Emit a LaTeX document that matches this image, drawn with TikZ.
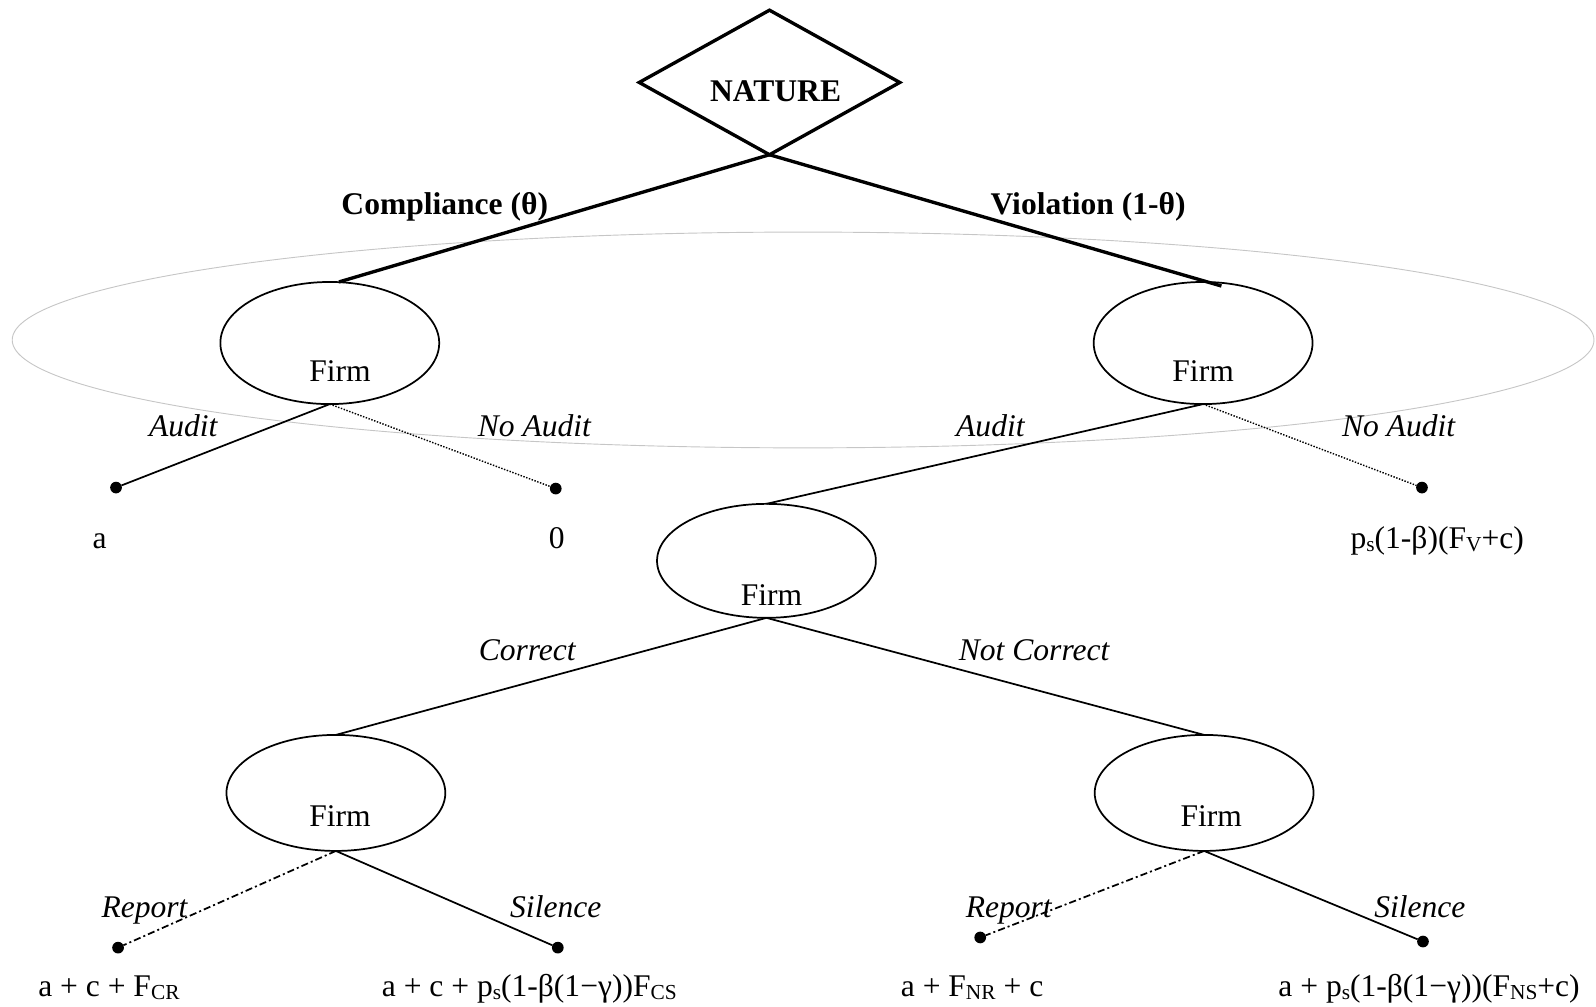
\documentclass[tikz,border=0pt]{standalone}
\usepackage{fontspec}
\setmainfont{Liberation Serif}
\usetikzlibrary{shapes.geometric,calc}
\newcommand\sbs[1]{\raisebox{-0.1em}{\fontsize{21}{21}\selectfont #1}}
\begin{document}
\begin{tikzpicture}[x=1pt,y=-1pt,
 every node/.style={font=\fontsize{31}{36}\selectfont, inner sep=0pt, outer sep=0pt},
 txt/.style={anchor=base},
 lbl/.style={anchor=base, font=\fontsize{31}{36}\selectfont\itshape},
 btxt/.style={anchor=base, font=\fontsize{31}{36}\selectfont\bfseries},
 firm/.style={ellipse, draw, line width=1.7pt, minimum width=215pt, minimum height=118pt},
 leaf/.style={circle, fill, minimum size=11.5pt},
 conn/.style={line width=1.7pt},
 nconn/.style={line width=3.3pt},
 dotconn/.style={line width=1.4pt, dash pattern=on 1.4pt off 1.5pt},
 dashdot/.style={line width=1.7pt, dash pattern=on 7pt off 3pt on 2pt off 3pt},
]
\useasboundingbox (0,0) rectangle (1568,989);

% information set
\draw[gray!45, line width=0.9pt] (789,334) ellipse [x radius=777, y radius=106];

% nature
\node[diamond, draw, line width=3.3pt, minimum width=256pt, minimum height=142pt, aspect=1.8] (nat) at (756,81) {};
\node[btxt] (natt) at (762,100) {NATURE};

% firm nodes
\node[firm, minimum height=120pt] (f1) at (324,337) {};
\node[firm, minimum height=120pt] (f2) at (1182,337) {};
\node[firm, minimum height=112pt] (f3) at (753,551) {};
\node[firm, minimum height=114pt] (f4) at (330,779) {};
\node[firm, minimum height=114pt] (f5) at (1183,779) {};
\node[txt] (f1t) at (334,375) {Firm};
\node[txt] (f2t) at (1182,375) {Firm};
\node[txt] (f3t) at (758,595) {Firm};
\node[txt] (f4t) at (334,812) {Firm};
\node[txt] (f5t) at (1190,812) {Firm};

% leaves
\node[leaf] (d1) at (114,479) {};
\node[leaf] (d2) at (546,480) {};
\node[leaf] (d3) at (1397,479) {};
\node[leaf] (d4) at (116,931) {};
\node[leaf] (d5) at (548,931) {};
\node[leaf] (d6) at (963,921) {};
\node[leaf] (d7) at (1398,925) {};

% connectors
\draw[nconn] (nat.south) -- ($(f1.north)+(9,0)$);
\draw[nconn] (nat.south) -- ($(f2.north)+(18,4)$);
\draw[conn] (f1.south) -- (d1);
\draw[dotconn] (f1.south) -- (d2);
\draw[conn] (f2.south) -- (f3.north);
\draw[dotconn] (f2.south) -- (d3);
\draw[conn] (f3.south) -- (f4.north);
\draw[conn] (f3.south) -- (f5.north);
\draw[dashdot] (f4.south) -- (d4);
\draw[conn] (f4.south) -- (d5);
\draw[dashdot] (f5.south) -- (d6);
\draw[conn] (f5.south) -- (d7);

% branch labels
\node[btxt] (lc) at (437,211) {Compliance (θ)};
\node[btxt] (lv) at (1069,211) {Violation (1-θ)};
\node[lbl] (la1) at (180,429) {Audit};
\node[lbl] (ln1) at (525,429) {No Audit};
\node[lbl] (la2) at (973,429) {Audit};
\node[lbl] (ln2) at (1374,429) {No Audit};
\node[lbl] (lco) at (518,649) {Correct};
\node[lbl] (lnc) at (1016,649) {Not Correct};
\node[lbl] (lr1) at (142,901) {Report};
\node[lbl] (ls1) at (546,901) {Silence};
\node[lbl] (lr2) at (991,901) {Report};
\node[lbl] (ls2) at (1395,901) {Silence};

% payoffs
\node[txt] (p1) at (98,539) {a};
\node[txt] (p2) at (547,539) {0};
\node[txt] (p3) at (1412,539) {p\sbs{s}(1-β)(F\sbs{V}+c)};
\node[txt] (p4) at (107,979) {a + c + F\sbs{CR}};
\node[txt] (p5) at (520,979) {a + c + p\sbs{s}(1-β(1−γ))F\sbs{CS}};
\node[txt] (p6) at (955,979) {a + F\sbs{NR} + c};
\node[txt] (p7) at (1404,979) {a + p\sbs{s}(1-β(1−γ))(F\sbs{NS}+c)};
\end{tikzpicture}
\end{document}
